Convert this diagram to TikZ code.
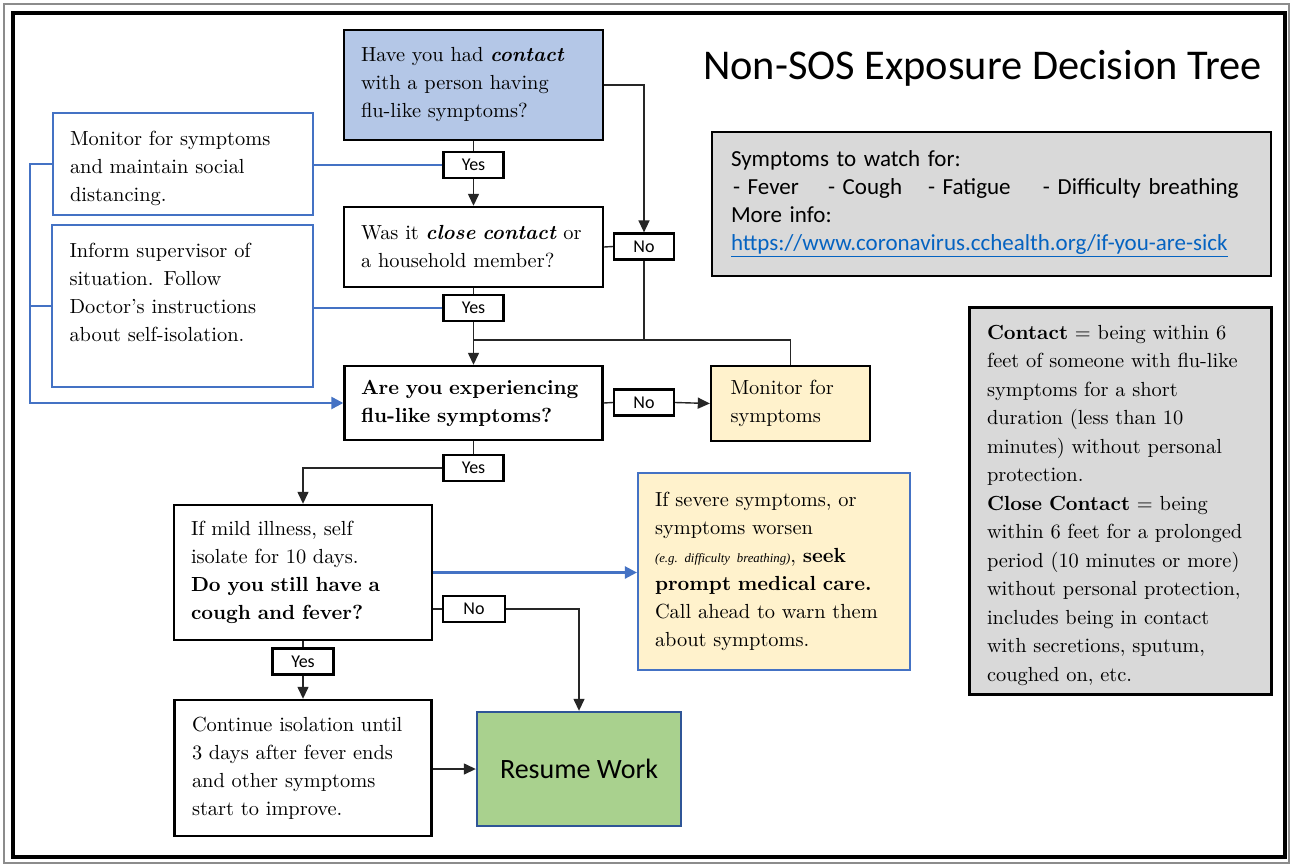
\documentclass[tikz,border=0pt]{standalone}
\usepackage{fontspec}
\newfontfamily\calibri{Carlito}
\newfontfamily\timesf{Liberation Serif}
\usetikzlibrary{arrows.meta}
\definecolor{qblue}{HTML}{B4C7E7}
\definecolor{cream}{HTML}{FFF2CC}
\definecolor{grayfill}{HTML}{D9D9D9}
\definecolor{greenfill}{HTML}{A9D18E}
\definecolor{darkblue}{HTML}{2F5597}
\definecolor{blueline}{HTML}{4472C4}
\definecolor{linkblue}{HTML}{0563C1}
\tikzset{
  serif/.style={font=\fontsize{10.2}{14}\selectfont},
  box/.style={draw=black, line width=1.2pt, inner sep=0pt, align=left, serif},
  bluebox/.style={draw=blueline, line width=1.1pt, inner sep=0pt, align=left, serif, fill=white},
  lbl/.style={draw=black, line width=1.1pt, fill=white, minimum width=30pt, minimum height=13pt, inner sep=0pt, font=\calibri\fontsize{9}{10}\selectfont},
  conn/.style={line width=0.7pt, draw=black!85},
  arr/.style={conn, -{Triangle[length=6pt,width=5.5pt]}},
  bl/.style={line width=1.2pt, draw=blueline},
  blarr/.style={bl, -{Triangle[length=6pt,width=6pt]}},
}
\begin{document}
\begin{tikzpicture}[x=0.5pt,y=-0.5pt]
\useasboundingbox (0,0) rectangle (1293,866);
\fill[white] (0,0) rectangle (1293,866);
% frame
\draw[black!45, line width=0.6pt] (4,4) rectangle (1289,863);
\draw[black, line width=1.6pt] (13,13) rectangle (1285,857);

% title
\node[font=\calibri\fontsize{21.2}{25}\selectfont] (title) at (982.5,68) {Non-SOS Exposure Decision Tree};

% main boxes
\node[box, fill=qblue, minimum width=129.5pt, minimum height=55pt, text width=112.5pt] (q1) at (473.5,85)
  {Have you had \textbf{\textit{contact}}\\ with a person having\\ flu-like symptoms?};
\node[box, fill=white, minimum width=129.5pt, minimum height=40pt, text width=112.5pt] (q2) at (473.5,247)
  {Was it \textbf{\textit{close contact}} or\\ a household member?};
\node[box, fill=white, minimum width=129pt, minimum height=37pt, text width=112.5pt] (q3) at (473.5,403)
  {\textbf{Are you experiencing}\\ \textbf{flu-like symptoms?}};
\node[box, fill=cream, minimum width=79.5pt, minimum height=37.5pt, text width=60pt] (mon) at (790.5,403.5)
  {Monitor for\\ symptoms};
\node[box, fill=white, minimum width=129pt, minimum height=67.5pt, text width=112pt] (q4) at (303,572.5)
  {If mild illness, self\\ isolate for 10 days.\\ \textbf{Do you still have a}\\ \textbf{cough and fever?}};
\node[box, fill=white, minimum width=128.5pt, minimum height=68pt, text width=111pt] (q5) at (303,768)
  {Continue isolation until\\ 3 days after fever ends\\ and other symptoms\\ start to improve.};
\node[bluebox, fill=cream, minimum width=136pt, minimum height=98.5pt, text width=119pt] (sev) at (774,571.5)
  {If severe symptoms, or\\ symptoms worsen\\ \mbox{\timesf\fontsize{6.4}{8}\selectfont\itshape (e.g.\ difficulty breathing)}, \textbf{seek}\\ \textbf{prompt medical care.}\\ Call ahead to warn them\\ about symptoms.};
\node[draw=darkblue, line width=1.2pt, fill=greenfill, minimum width=102pt, minimum height=57pt, inner sep=0pt,
  font=\calibri\fontsize{14}{17}\selectfont] (resume) at (579,769) {Resume Work};

% left blue boxes
\node[bluebox, minimum width=130pt, minimum height=51pt, text width=113pt] (boxA) at (183,164)
  {\rule{0pt}{12pt}Monitor for symptoms\\ and maintain social\\ distancing.};
\node[bluebox, minimum width=130.5pt, minimum height=81pt, text width=113pt] (boxB) at (182.5,306)
  {Inform supervisor of\\ situation. Follow\\ Doctor's instructions\\ about self-isolation.\\ \mbox{}};

% info boxes
\node[draw=black, line width=1.4pt, fill=grayfill, minimum width=279.5pt, minimum height=72pt, inner sep=0pt,
  text width=260.5pt, align=left, font=\calibri\fontsize{11.5}{14}\selectfont] (symp) at (991.5,204)
  {Symptoms to watch for:\\
   \makebox[48.5pt][l]{\hspace{1pt}- Fever}\makebox[50pt][l]{- Cough}\makebox[57.5pt][l]{- Fatigue}- Difficulty breathing\\
   More info:\\
   \textcolor{linkblue}{\underline{https://www.coronavirus.cchealth.org/if-you-are-sick}}};
\node[draw=black, line width=1.5pt, fill=grayfill, minimum width=151pt, minimum height=193.5pt, inner sep=0pt,
  text width=133pt, align=left, font=\fontsize{10.2}{14.25}\selectfont] (cont) at (1120,500.5)
  {\rule{0pt}{12pt}\textbf{Contact} = being within 6\\ feet of someone with flu-like\\ symptoms for a short\\ duration (less than 10\\ minutes) without personal\\ protection.\\
   \textbf{Close Contact} = being\\ within 6 feet for a prolonged\\ period (10 minutes or more)\\ without personal protection,\\ includes being in contact\\ with secretions, sputum,\\ coughed on, etc.};

% yes / no labels
\node[lbl] (yes1) at (473.5,165) {Yes};
\node[lbl] (no2) at (644,246.5) {No};
\node[lbl] (yes2) at (473.5,308) {Yes};
\node[lbl] (no3) at (644,402.5) {No};
\node[lbl] (yes3) at (473.5,468) {Yes};
\node[lbl, minimum width=31pt] (no4) at (474,609) {No};
\node[lbl, minimum width=30.5pt] (yes5) at (303,661.5) {Yes};

\coordinate (j) at (473.5,340);
\coordinate (lbus) at (30,403);

% black connectors
\draw[arr] (q1.east) -| (no2.north);
\draw[conn] (q1.south) -- (yes1.north);
\draw[arr] (yes1.south) -- (q2.north);
\draw[conn] (q2.east) -- (no2.west);
\draw[conn] (q2.south) -- (yes2.north);
\draw[conn] (no2.south) |- (j);
\draw[conn] (mon.north) |- (j);
\draw[arr] (yes2.south) -- (q3.north);
\draw[conn] (q3.east) -- (no3.west);
\draw[arr] (no3.east) -- (mon.west);
\draw[conn] (q3.south) -- (yes3.north);
\draw[arr] (yes3.west) -| (q4.north);
\draw[conn] (q4.east |- no4.west) -- (no4.west);
\draw[arr] (no4.east) -| (resume.north);
\draw[conn] (q4.south) -- (yes5.north);
\draw[arr] (yes5.south) -- (q5.north);
\draw[arr] (q5.east |- resume.west) -- (resume.west);

% blue connectors
\draw[blarr] (q4.east) -- (q4.east -| sev.west);
\draw[bl] (yes1.west) -- (yes1.west -| boxA.east);
\draw[bl] (yes2.west) -- (yes2.west -| boxB.east);
\draw[bl] (boxB.west) -- (boxB.west -| lbus);
\draw[blarr] (boxA.west) -| (lbus) -- (q3.west);
\end{tikzpicture}
\end{document}
